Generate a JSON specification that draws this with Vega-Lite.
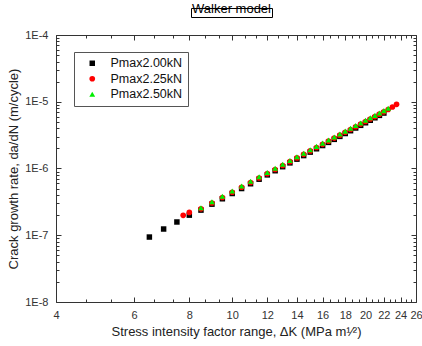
{
  "$schema": "https://vega.github.io/schema/vega-lite/v6.json",
  "width": 360,
  "height": 267,
  "autosize": "none",
  "padding": {"left": 56, "top": 35, "right": 6, "bottom": 44},
  "background": "white",
  "config": {
    "font": "Liberation Sans",
    "view": {"stroke": null},
    "axis": {
      "domainColor": "#333", "tickColor": "#333", "labelColor": "#333", "titleColor": "#222",
      "labelFont": "Liberation Sans", "titleFont": "Liberation Sans",
      "labelFontSize": 11, "titleFontSize": 13, "titleFontWeight": "normal",
      "grid": false, "labelOverlap": false, "labelFlush": false, "labelBound": false
    }
  },
  "data": {"values": [
    {"s": "Pmax2.00kN", "K": 6.5, "r": 9.4e-8},
    {"s": "Pmax2.00kN", "K": 7.0, "r": 1.24e-7},
    {"s": "Pmax2.00kN", "K": 7.5, "r": 1.58e-7},
    {"s": "Pmax2.00kN", "K": 8.0, "r": 2.0e-7},
    {"s": "Pmax2.00kN", "K": 8.5, "r": 2.38e-7},
    {"s": "Pmax2.00kN", "K": 9.0, "r": 2.92e-7},
    {"s": "Pmax2.00kN", "K": 9.5, "r": 3.52e-7},
    {"s": "Pmax2.00kN", "K": 10.0, "r": 4.22e-7},
    {"s": "Pmax2.00kN", "K": 10.5, "r": 5.01e-7},
    {"s": "Pmax2.00kN", "K": 11.0, "r": 5.91e-7},
    {"s": "Pmax2.00kN", "K": 11.5, "r": 6.91e-7},
    {"s": "Pmax2.00kN", "K": 12.0, "r": 8.02e-7},
    {"s": "Pmax2.00kN", "K": 12.5, "r": 9.26e-7},
    {"s": "Pmax2.00kN", "K": 13.0, "r": 1.064e-6},
    {"s": "Pmax2.00kN", "K": 13.5, "r": 1.214e-6},
    {"s": "Pmax2.00kN", "K": 14.0, "r": 1.38e-6},
    {"s": "Pmax2.00kN", "K": 14.5, "r": 1.561e-6},
    {"s": "Pmax2.00kN", "K": 15.0, "r": 1.759e-6},
    {"s": "Pmax2.00kN", "K": 15.5, "r": 1.975e-6},
    {"s": "Pmax2.00kN", "K": 16.0, "r": 2.208e-6},
    {"s": "Pmax2.00kN", "K": 16.5, "r": 2.461e-6},
    {"s": "Pmax2.00kN", "K": 17.0, "r": 2.733e-6},
    {"s": "Pmax2.00kN", "K": 17.5, "r": 3.027e-6},
    {"s": "Pmax2.00kN", "K": 18.0, "r": 3.342e-6},
    {"s": "Pmax2.00kN", "K": 18.5, "r": 3.682e-6},
    {"s": "Pmax2.00kN", "K": 19.0, "r": 4.044e-6},
    {"s": "Pmax2.00kN", "K": 19.5, "r": 4.432e-6},
    {"s": "Pmax2.00kN", "K": 20.0, "r": 4.844e-6},
    {"s": "Pmax2.00kN", "K": 20.5, "r": 5.284e-6},
    {"s": "Pmax2.00kN", "K": 21.0, "r": 5.752e-6},
    {"s": "Pmax2.00kN", "K": 21.5, "r": 6.248e-6},
    {"s": "Pmax2.00kN", "K": 22.0, "r": 6.775e-6},
    {"s": "Pmax2.25kN", "K": 7.75, "r": 1.99e-7},
    {"s": "Pmax2.25kN", "K": 8.0, "r": 2.2e-7},
    {"s": "Pmax2.25kN", "K": 8.5, "r": 2.49e-7},
    {"s": "Pmax2.25kN", "K": 9.0, "r": 3.04e-7},
    {"s": "Pmax2.25kN", "K": 9.5, "r": 3.68e-7},
    {"s": "Pmax2.25kN", "K": 10.0, "r": 4.41e-7},
    {"s": "Pmax2.25kN", "K": 10.5, "r": 5.23e-7},
    {"s": "Pmax2.25kN", "K": 11.0, "r": 6.16e-7},
    {"s": "Pmax2.25kN", "K": 11.5, "r": 7.21e-7},
    {"s": "Pmax2.25kN", "K": 12.0, "r": 8.37e-7},
    {"s": "Pmax2.25kN", "K": 12.5, "r": 9.67e-7},
    {"s": "Pmax2.25kN", "K": 13.0, "r": 1.11e-6},
    {"s": "Pmax2.25kN", "K": 13.5, "r": 1.267e-6},
    {"s": "Pmax2.25kN", "K": 14.0, "r": 1.44e-6},
    {"s": "Pmax2.25kN", "K": 14.5, "r": 1.629e-6},
    {"s": "Pmax2.25kN", "K": 15.0, "r": 1.836e-6},
    {"s": "Pmax2.25kN", "K": 15.5, "r": 2.061e-6},
    {"s": "Pmax2.25kN", "K": 16.0, "r": 2.304e-6},
    {"s": "Pmax2.25kN", "K": 16.5, "r": 2.568e-6},
    {"s": "Pmax2.25kN", "K": 17.0, "r": 2.852e-6},
    {"s": "Pmax2.25kN", "K": 17.5, "r": 3.158e-6},
    {"s": "Pmax2.25kN", "K": 18.0, "r": 3.488e-6},
    {"s": "Pmax2.25kN", "K": 18.5, "r": 3.842e-6},
    {"s": "Pmax2.25kN", "K": 19.0, "r": 4.22e-6},
    {"s": "Pmax2.25kN", "K": 19.5, "r": 4.624e-6},
    {"s": "Pmax2.25kN", "K": 20.0, "r": 5.054e-6},
    {"s": "Pmax2.25kN", "K": 20.5, "r": 5.514e-6},
    {"s": "Pmax2.25kN", "K": 21.0, "r": 6.002e-6},
    {"s": "Pmax2.25kN", "K": 21.5, "r": 6.519e-6},
    {"s": "Pmax2.25kN", "K": 22.0, "r": 7.069e-6},
    {"s": "Pmax2.25kN", "K": 22.5, "r": 7.652e-6},
    {"s": "Pmax2.25kN", "K": 23.0, "r": 8.35e-6},
    {"s": "Pmax2.25kN", "K": 23.5, "r": 9.15e-6},
    {"s": "Pmax2.50kN", "K": 8.5, "r": 2.59e-7},
    {"s": "Pmax2.50kN", "K": 9.0, "r": 3.17e-7},
    {"s": "Pmax2.50kN", "K": 9.5, "r": 3.83e-7},
    {"s": "Pmax2.50kN", "K": 10.0, "r": 4.59e-7},
    {"s": "Pmax2.50kN", "K": 10.5, "r": 5.45e-7},
    {"s": "Pmax2.50kN", "K": 11.0, "r": 6.42e-7},
    {"s": "Pmax2.50kN", "K": 11.5, "r": 7.51e-7},
    {"s": "Pmax2.50kN", "K": 12.0, "r": 8.72e-7},
    {"s": "Pmax2.50kN", "K": 12.5, "r": 1.007e-6},
    {"s": "Pmax2.50kN", "K": 13.0, "r": 1.156e-6},
    {"s": "Pmax2.50kN", "K": 13.5, "r": 1.32e-6},
    {"s": "Pmax2.50kN", "K": 14.0, "r": 1.5e-6},
    {"s": "Pmax2.50kN", "K": 14.5, "r": 1.697e-6},
    {"s": "Pmax2.50kN", "K": 15.0, "r": 1.912e-6},
    {"s": "Pmax2.50kN", "K": 15.5, "r": 2.147e-6},
    {"s": "Pmax2.50kN", "K": 16.0, "r": 2.4e-6},
    {"s": "Pmax2.50kN", "K": 16.5, "r": 2.675e-6},
    {"s": "Pmax2.50kN", "K": 17.0, "r": 2.971e-6},
    {"s": "Pmax2.50kN", "K": 17.5, "r": 3.29e-6},
    {"s": "Pmax2.50kN", "K": 18.0, "r": 3.633e-6},
    {"s": "Pmax2.50kN", "K": 18.5, "r": 4.002e-6},
    {"s": "Pmax2.50kN", "K": 19.0, "r": 4.396e-6},
    {"s": "Pmax2.50kN", "K": 19.5, "r": 4.817e-6},
    {"s": "Pmax2.50kN", "K": 20.0, "r": 5.265e-6},
    {"s": "Pmax2.50kN", "K": 20.5, "r": 5.744e-6},
    {"s": "Pmax2.50kN", "K": 21.0, "r": 6.252e-6},
    {"s": "Pmax2.50kN", "K": 21.5, "r": 6.791e-6},
    {"s": "Pmax2.50kN", "K": 22.0, "r": 7.364e-6},
    {"s": "Pmax2.50kN", "K": 22.5, "r": 7.971e-6}
  ]},
  "layer": [
    {
      "mark": {"type": "point", "filled": true, "opacity": 1, "strokeWidth": 0},
      "encoding": {
        "x": {"field": "K", "type": "quantitative",
          "scale": {"type": "log", "domain": [4, 26], "nice": false},
          "axis": {"orient": "bottom", "values": [4, 6, 8, 10, 12, 14, 16, 18, 20, 22, 24, 26],
            "tickSize": -5, "labelPadding": 12, "title": "Stress intensity factor range, ΔK (MPa m¹⁄²)", "titlePadding": 5}},
        "y": {"field": "r", "type": "quantitative",
          "scale": {"type": "log", "domain": [1e-8, 1e-4], "nice": false},
          "axis": {"orient": "left", "values": [1e-8, 1e-7, 1e-6, 1e-5, 1e-4],
            "labelExpr": "'1E' + round(log(datum.value) / LN10)",
            "tickSize": -5, "labelPadding": 13, "title": "Crack growth rate, da/dN (m/cycle)", "titlePadding": 4}},
        "color": {"field": "s", "type": "nominal",
          "scale": {"domain": ["Pmax2.00kN", "Pmax2.25kN", "Pmax2.50kN"], "range": ["#000000", "#ff0000", "#00ee00"]},
          "legend": {"title": null, "orient": "none", "legendX": 18, "legendY": 17,
            "strokeColor": "#555", "fillColor": "white", "padding": 5,
            "labelFontSize": 12.5, "labelColor": "#111", "labelFont": "Liberation Sans",
            "symbolSize": 30, "symbolOffset": 7, "labelOffset": 12, "rowPadding": 2.5, "symbolStrokeWidth": 0}},
        "shape": {"field": "s", "type": "nominal",
          "scale": {"domain": ["Pmax2.00kN", "Pmax2.25kN", "Pmax2.50kN"], "range": ["square", "circle", "triangle-up"]},
          "legend": {"title": null, "orient": "none", "legendX": 18, "legendY": 17,
            "strokeColor": "#555", "fillColor": "white", "padding": 5,
            "labelFontSize": 12.5, "labelColor": "#111", "labelFont": "Liberation Sans",
            "symbolSize": 30, "symbolOffset": 7, "labelOffset": 12, "rowPadding": 2.5, "symbolStrokeWidth": 0}},
        "size": {"field": "s", "type": "nominal",
          "scale": {"domain": ["Pmax2.00kN", "Pmax2.25kN", "Pmax2.50kN"], "range": [30, 34, 40]},
          "legend": null}
      }
    },
    {
      "mark": {"type": "point", "opacity": 0},
      "encoding": {
        "x": {"field": "K", "type": "quantitative", "scale": {"type": "log", "domain": [4, 26], "nice": false},
          "axis": {"orient": "top", "values": [4, 6, 8, 10, 12, 14, 16, 18, 20, 22, 24, 26], "labels": false, "tickSize": -5, "title": null}},
        "y": {"field": "r", "type": "quantitative", "scale": {"type": "log", "domain": [1e-8, 1e-4], "nice": false},
          "axis": {"orient": "right", "values": [1e-8, 1e-7, 1e-6, 1e-5, 1e-4], "labels": false, "tickSize": -5, "title": null}}
      }
    },
    {
      "mark": {"type": "point", "opacity": 0},
      "encoding": {
        "x": {"field": "K", "type": "quantitative", "scale": {"type": "log", "domain": [4, 26], "nice": false},
          "axis": {"orient": "bottom", "values": [4.667, 5.333, 6.667, 7.333, 8.667, 9.333, 10.667, 11.333, 12.667, 13.333, 14.667, 15.333, 16.667, 17.333, 18.667, 19.333, 20.667, 21.333, 22.667, 23.333, 24.667, 25.333],
            "labels": false, "tickSize": -3, "domain": false, "title": null}},
        "y": {"field": "r", "type": "quantitative", "scale": {"type": "log", "domain": [1e-8, 1e-4], "nice": false},
          "axis": {"orient": "left", "values": [2e-8, 3e-8, 4e-8, 5e-8, 6e-8, 7e-8, 8e-8, 9e-8, 2e-7, 3e-7, 4e-7, 5e-7, 6e-7, 7e-7, 8e-7, 9e-7, 2e-6, 3e-6, 4e-6, 5e-6, 6e-6, 7e-6, 8e-6, 9e-6, 2e-5, 3e-5, 4e-5, 5e-5, 6e-5, 7e-5, 8e-5, 9e-5],
            "labels": false, "tickSize": -3, "domain": false, "title": null}}
      }
    },
    {
      "mark": {"type": "point", "opacity": 0},
      "encoding": {
        "x": {"field": "K", "type": "quantitative", "scale": {"type": "log", "domain": [4, 26], "nice": false},
          "axis": {"orient": "top", "values": [4.667, 5.333, 6.667, 7.333, 8.667, 9.333, 10.667, 11.333, 12.667, 13.333, 14.667, 15.333, 16.667, 17.333, 18.667, 19.333, 20.667, 21.333, 22.667, 23.333, 24.667, 25.333],
            "labels": false, "tickSize": -3, "domain": false, "title": null}},
        "y": {"field": "r", "type": "quantitative", "scale": {"type": "log", "domain": [1e-8, 1e-4], "nice": false},
          "axis": {"orient": "right", "values": [2e-8, 3e-8, 4e-8, 5e-8, 6e-8, 7e-8, 8e-8, 9e-8, 2e-7, 3e-7, 4e-7, 5e-7, 6e-7, 7e-7, 8e-7, 9e-7, 2e-6, 3e-6, 4e-6, 5e-6, 6e-6, 7e-6, 8e-6, 9e-6, 2e-5, 3e-5, 4e-5, 5e-5, 6e-5, 7e-5, 8e-5, 9e-5],
            "labels": false, "tickSize": -3, "domain": false, "title": null}}
      }
    },
    {
      "data": {"values": [{"model": "Walker model"}]},
      "mark": {"type": "point", "opacity": 0},
      "encoding": {
        "strokeWidth": {"field": "model", "type": "nominal", "scale": {"range": [0]},
          "legend": {"title": null, "orient": "none", "legendX": 135, "legendY": -27,
            "strokeColor": "black", "fillColor": "white", "padding": 1,
            "labelFontSize": 13, "labelColor": "black", "labelFont": "Liberation Sans",
            "symbolSize": 0, "symbolOpacity": 0, "symbolStrokeWidth": 0,
            "symbolFillColor": "transparent", "symbolStrokeColor": "transparent", "labelOffset": 0,
            "labelExpr": "'\u00a0\u00a0' + datum.label + '\u00a0\u00a0'"}}
      }
    }
  ],
  "resolve": {"axis": {"x": "independent", "y": "independent"}}
}
